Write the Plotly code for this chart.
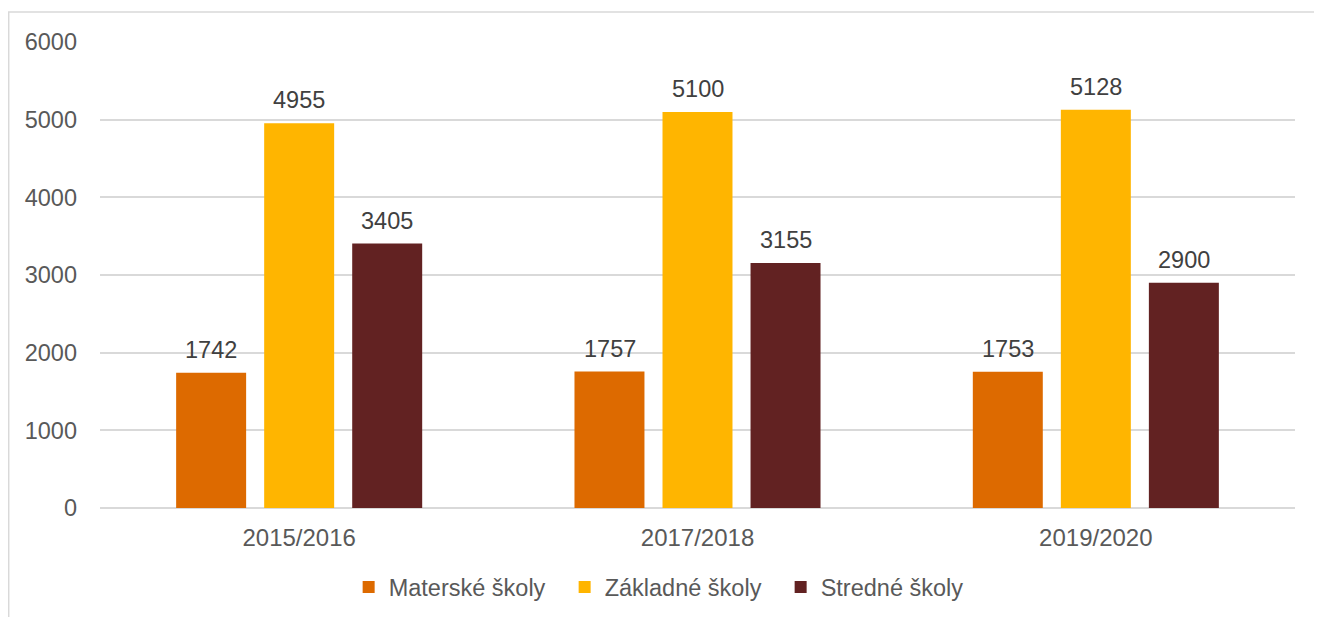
import plotly.graph_objects as go

categories = ["2015/2016", "2017/2018", "2019/2020"]
series_names = ["Materské školy", "Základné školy", "Stredné školy"]
materske = [1742, 1757, 1753]
zakladne = [4955, 5100, 5128]
stredne = [3405, 3155, 2900]
colors = ["#DD6A00", "#FFB500", "#622222"]
y_ticks = [0, 1000, 2000, 3000, 4000, 5000, 6000]

font_family = "Liberation Sans, Arial, sans-serif"
fig = go.Figure()
all_series = [materske, zakladne, stredne]
for name, vals, col in zip(series_names, all_series, colors):
    fig.add_trace(go.Bar(x=categories, y=vals, name=name, marker=dict(color=col, line=dict(width=0))))

offsets = [-88, 0, 88]
for vals, off in zip(all_series, offsets):
    for c, v in zip(categories, vals):
        fig.add_annotation(x=c, y=v, text=str(v), showarrow=False, xshift=off, yshift=23,
                           yanchor="middle", font=dict(size=23.5, color="#404040", family=font_family))

fig.add_shape(type="rect", xref="paper", yref="paper", x0=-0.0764, y0=-0.4, x1=1.2, y1=1.0644,
              line=dict(color="#D9D9D9", width=1.5), fillcolor="rgba(0,0,0,0)", layer="below")

fig.update_layout(
    width=1322, height=617,
    margin=dict(l=92, r=35, t=34, b=117),
    paper_bgcolor="white", plot_bgcolor="white",
    barmode="group", bargap=0.337, bargroupgap=0.205,
    font=dict(family=font_family, size=23.5, color="#595959"),
    legend=dict(orientation="h", x=0.4792, xanchor="center", y=-0.17, yanchor="middle",
                font=dict(size=23.5, color="#595959"), itemwidth=30, traceorder="normal",
                entrywidth=171, entrywidthmode="pixels"),
    xaxis=dict(showgrid=False, showline=False, ticks="", tickfont=dict(size=24, color="#595959"),
               ticklabelstandoff=13),
    yaxis=dict(range=[0, 6000], tickvals=y_ticks, showgrid=True, gridcolor="#D9D9D9", gridwidth=1.5,
               zeroline=True, zerolinecolor="#D9D9D9", zerolinewidth=1.5, showline=False, ticks="",
               tickfont=dict(size=23.5, color="#595959"), ticklabelstandoff=22),
)

fig.write_html("out.html")
